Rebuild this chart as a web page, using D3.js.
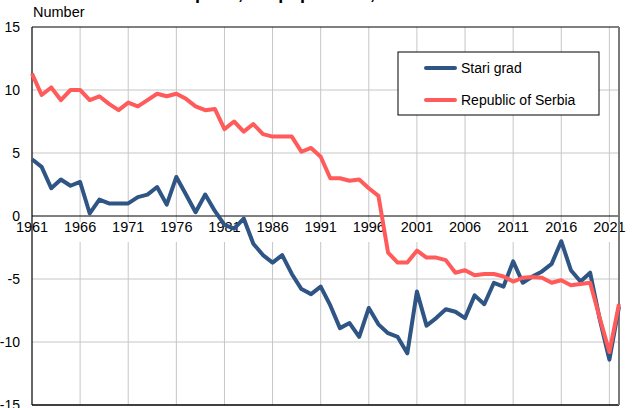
<!DOCTYPE html>
<html>
<head>
<meta charset="utf-8">
<script src="https://cdn.jsdelivr.net/npm/d3@7"></script>
<style>
  body { margin: 0; background: #fff; }
  text { font-family: "Liberation Sans", Arial, sans-serif; fill: #000; }
</style>
</head>
<body>
<div class="chart"></div>
<script>
const years = d3.range(1961, 2023)
const stariGrad = [
  4.5, 3.9, 2.2, 2.9, 2.4, 2.7, 0.2, 1.3, 1.0, 1.0,
  1.0, 1.5, 1.7, 2.3, 0.9, 3.1, 1.7, 0.3, 1.7, 0.4,
  -0.7, -1.0, -0.2, -2.2, -3.1, -3.7, -3.1, -4.6, -5.8, -6.2,
  -5.6, -7.1, -8.9, -8.5, -9.6, -7.3, -8.6, -9.3, -9.6, -10.9,
  -6.0, -8.7, -8.1, -7.4, -7.6, -8.1, -6.3, -7.0, -5.3, -5.6,
  -3.6, -5.3, -4.8, -4.4, -3.8, -2.0, -4.3, -5.2, -4.5, -8.2,
  -11.4, -7.2
]
const serbia = [
  11.3, 9.6, 10.2, 9.2, 10.0, 10.0, 9.2, 9.5, 8.9, 8.4,
  9.0, 8.7, 9.2, 9.7, 9.5, 9.7, 9.3, 8.7, 8.4, 8.5,
  6.9, 7.5, 6.7, 7.3, 6.5, 6.3, 6.3, 6.3, 5.1, 5.4,
  4.7, 3.0, 3.0, 2.8, 2.9, 2.2, 1.6, -2.9, -3.7, -3.7,
  -2.75, -3.3, -3.3, -3.5, -4.5, -4.3, -4.7, -4.6, -4.6, -4.8,
  -5.2, -4.9, -4.85, -4.9, -5.3, -5.1, -5.5, -5.4, -5.3, -8.1,
  -10.8, -7.0
]
const xTickYears = [1961, 1966, 1971, 1976, 1981, 1986, 1991, 1996, 2001, 2006, 2011, 2016, 2021]
const yTickValues = [-15, -10, -5, 0, 5, 10, 15]
const seriesNames = ['Stari grad', 'Republic of Serbia']
const seriesColors = ['#2e5584', '#ff5b5b']

const width = 633
const height = 408
const plotLeft = 32, plotRight = 619, plotTop = 27, plotBottom = 405

const svg = d3.select('.chart')
  .append('svg')
  .attr('width', width)
  .attr('height', height)

const x = d3.scaleLinear().domain([1961, 2022]).range([plotLeft, plotRight])
const y = d3.scaleLinear().domain([-15, 15]).range([plotBottom, plotTop])

// title, mostly cut off above the picture
svg.append('text')
  .attr('x', 50)
  .attr('y', -1)
  .attr('font-size', 18)
  .attr('font-weight', 'bold')
  .text('Natural increase per 1,000 population, 1961–2022')

svg.append('text')
  .attr('x', 33)
  .attr('y', 17)
  .attr('font-size', 14.5)
  .text('Number')

// grid
svg.append('g')
  .selectAll('line')
  .data(xTickYears.slice(1))
  .enter()
  .append('line')
  .attr('x1', d => x(d)).attr('x2', d => x(d))
  .attr('y1', plotTop).attr('y2', plotBottom)
  .attr('stroke', '#c6c6c6')

svg.append('g')
  .selectAll('line')
  .data(yTickValues.filter(d => d !== 0 && Math.abs(d) !== 15))
  .enter()
  .append('line')
  .attr('x1', plotLeft).attr('x2', plotRight)
  .attr('y1', d => y(d)).attr('y2', d => y(d))
  .attr('stroke', '#c6c6c6')

// x tick labels under the zero line (white patch hides the grid behind them)
const xl = svg.append('g')
  .selectAll('g')
  .data(xTickYears)
  .enter()
  .append('g')
  .attr('transform', d => `translate(${x(d)},${y(0)})`)

xl.append('rect')
  .attr('x', -19).attr('y', 6)
  .attr('width', 38).attr('height', 20)
  .attr('fill', '#fff')

xl.append('text')
  .attr('y', 16)
  .attr('text-anchor', 'middle')
  .attr('font-size', 14.5)
  .text(d => d)

// y tick labels
svg.append('g')
  .selectAll('text')
  .data(yTickValues)
  .enter()
  .append('text')
  .attr('x', 20)
  .attr('y', d => y(d))
  .attr('dy', '0.35em')
  .attr('text-anchor', 'end')
  .attr('font-size', 14)
  .text(d => d)

// frame and zero line
svg.append('line')
  .attr('x1', plotLeft).attr('x2', plotRight)
  .attr('y1', y(0)).attr('y2', y(0))
  .attr('stroke', '#000')
svg.append('line')
  .attr('x1', plotLeft).attr('x2', plotRight)
  .attr('y1', plotTop).attr('y2', plotTop)
  .attr('stroke', '#000')
svg.append('line')
  .attr('x1', plotLeft).attr('x2', plotRight)
  .attr('y1', plotBottom).attr('y2', plotBottom)
  .attr('stroke', '#000')
  .attr('stroke-width', 1.5)
svg.append('line')
  .attr('x1', plotLeft).attr('x2', plotLeft)
  .attr('y1', plotTop).attr('y2', plotBottom)
  .attr('stroke', '#000')
  .attr('stroke-width', 1.2)
svg.append('line')
  .attr('x1', plotRight).attr('x2', plotRight)
  .attr('y1', plotTop).attr('y2', plotBottom)
  .attr('stroke', '#7a7a7a')
  .attr('stroke-width', 2)

// lines
const line = d3.line()
  .x((d, i) => x(years[i]))
  .y(d => y(d))

;[stariGrad, serbia].forEach((s, i) => {
  svg.append('path')
    .datum(s)
    .attr('d', line)
    .attr('fill', 'none')
    .attr('stroke', seriesColors[i])
    .attr('stroke-width', 4)
    .attr('stroke-linejoin', 'round')
})

// legend
const legend = svg.append('g').attr('transform', 'translate(398,52)')
legend.append('rect')
  .attr('width', 201).attr('height', 63)
  .attr('fill', '#fff')
  .attr('stroke', '#000')

const item = legend.selectAll('.item')
  .data(seriesNames)
  .enter()
  .append('g')
  .attr('transform', (d, i) => `translate(0,${16 + i * 32})`)

item.append('line')
  .attr('x1', 28).attr('x2', 57)
  .attr('stroke', (d, i) => seriesColors[i])
  .attr('stroke-width', 4)
  .attr('stroke-linecap', 'round')

item.append('text')
  .attr('x', 63)
  .attr('dy', '0.35em')
  .attr('font-size', 14)
  .text(d => d)
</script>
</body>
</html>
